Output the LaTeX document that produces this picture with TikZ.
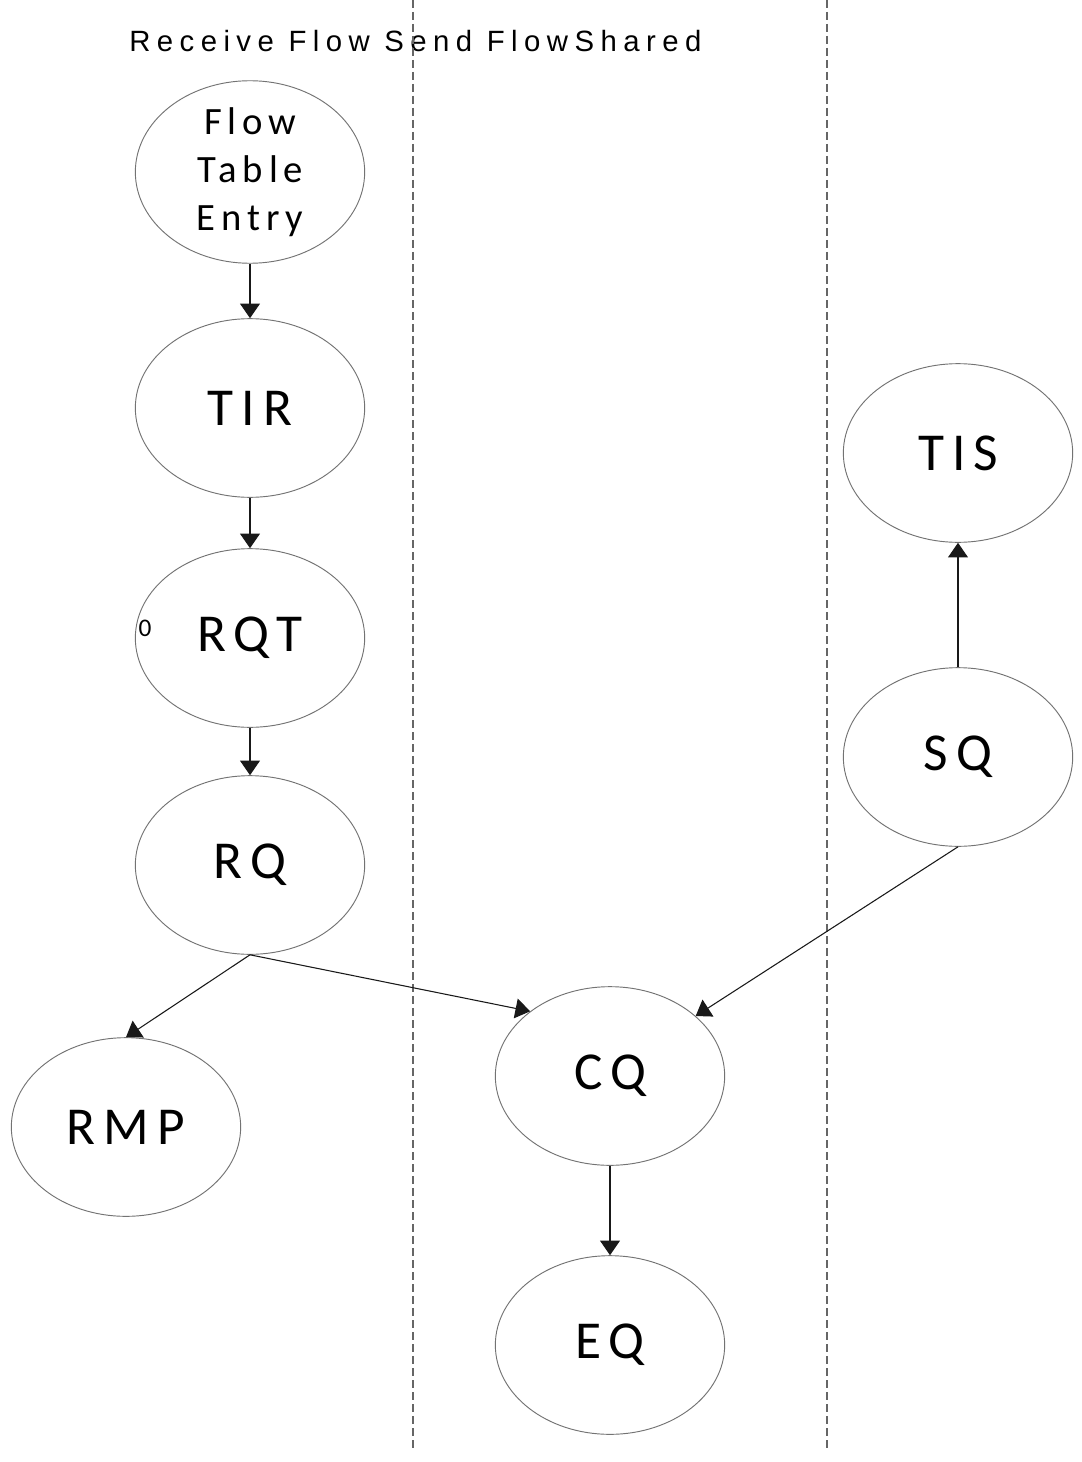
\documentclass[tikz,border=0pt]{standalone}
\usepackage{fontspec}
\usetikzlibrary{shapes.geometric,arrows.meta}
\newfontfamily\headfont[LetterSpace=22]{Liberation Sans}
\newfontfamily\lblfont[LetterSpace=15]{Carlito}
\newfontfamily\plainlbl{Carlito}
\begin{document}
\begin{tikzpicture}[x=0.75pt,y=-0.75pt,
  oval/.style={ellipse,draw=black!55,line width=0.7pt,minimum width=172pt,minimum height=134pt,inner sep=0pt,
    font=\lblfont\fontsize{40}{44}\selectfont},
  lane/.style={draw=black!60,line width=0.8pt,dash pattern=on 6pt off 3pt},
  flow/.style={draw=black!90,line width=0.8pt,-{Triangle[length=11pt,width=15pt]}}]
\useasboundingbox (0,0) rectangle (1081,1462);
\fill[white] (0,0) rectangle (1081,1462);
% lane separators
\coordinate (l1t) at (413,0);
\coordinate (l1b) at (413,1450);
\coordinate (l2t) at (827,0);
\coordinate (l2b) at (827,1450);
\node[anchor=base west,inner sep=0pt,font=\headfont\fontsize{22}{26}\selectfont] (head) at (129,52) {Receive Flow Send FlowShared};
\draw[lane] (l1t) -- (l1b);
\draw[lane] (l2t) -- (l2b);
% nodes
\node[oval,align=center,font=\lblfont\fontsize{29}{36}\selectfont] (fte) at (250,172) {Flow\\Table\\Entry};
\node[oval] (tir) at (250,408) {TIR};
\node[oval] (rqt) at (250,638) {\raisebox{-3pt}{RQT}};
\node[oval] (rq) at (250,865) {\raisebox{-3pt}{RQ}};
\node[oval] (rmp) at (126,1127) {RMP};
\node[oval] (cq) at (610,1076) {\raisebox{-3pt}{CQ}};
\node[oval] (eq) at (610,1345) {EQ};
\node[oval] (tis) at (958,453) {TIS};
\node[oval] (sq) at (958,757) {SQ};
\node[font=\plainlbl\fontsize{19}{21}\selectfont,inner sep=0pt] (zero) at (145,628) {0};
% connectors
\draw[flow] (fte.south) -- (tir.north);
\draw[flow] (tir.south) -- (rqt.north);
\draw[flow] (rqt.south) -- (rq.north);
\draw[flow] (rq.south) -- (rmp.north);
\draw[flow] (rq.south) -- (cq.141);
\draw[flow] (sq.south) -- (cq.35);
\draw[flow] (cq.south) -- (eq.north);
\draw[flow] (sq.north) -- (tis.south);
\end{tikzpicture}
\end{document}
